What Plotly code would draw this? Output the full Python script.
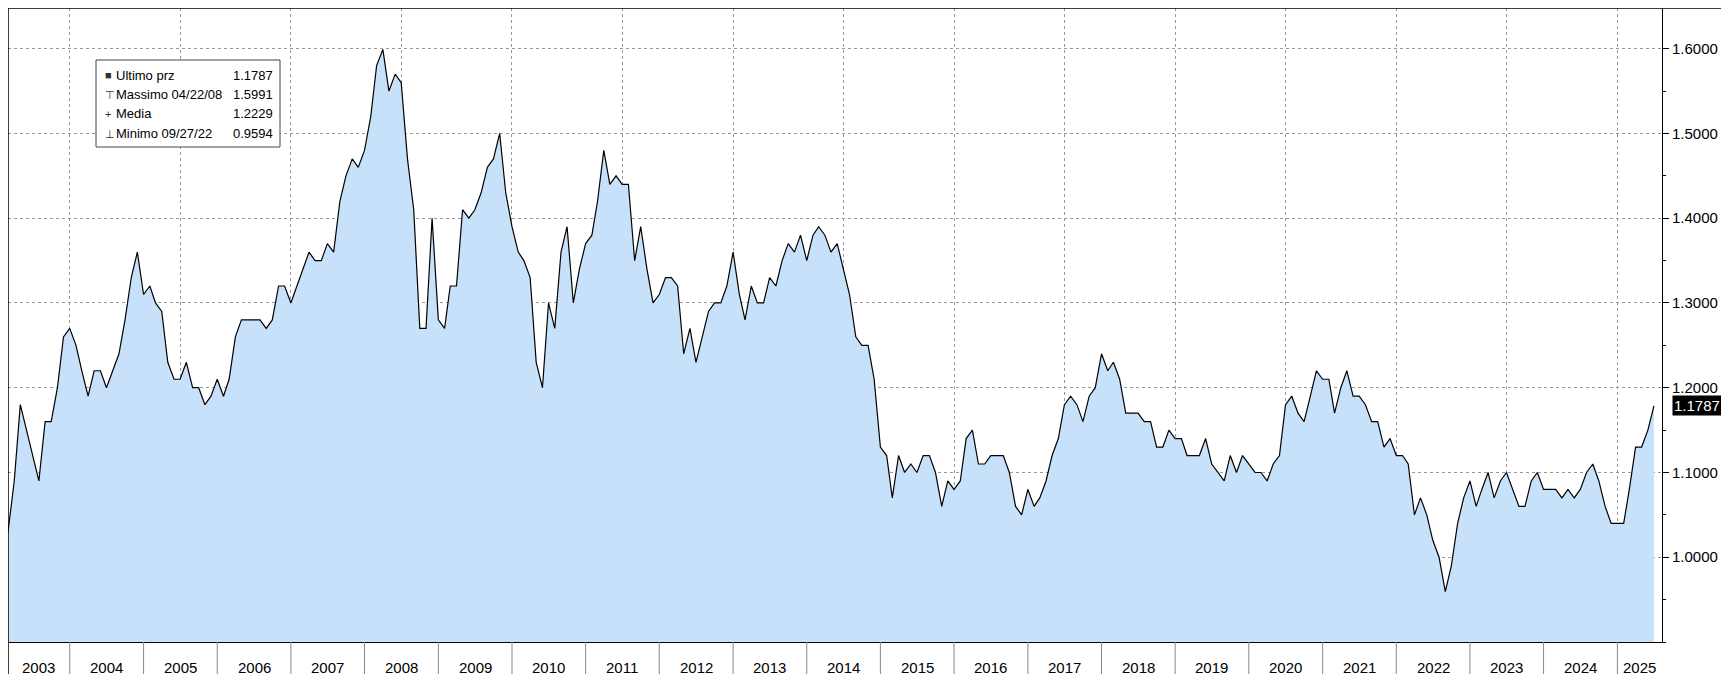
import plotly.graph_objects as go
import pandas as pd

start_month = "2003-03-01"
values = [
 1.03,1.09,1.18,1.15,1.12,1.09,1.16,1.16,1.20,1.26,
 1.27,1.25,1.22,1.19,1.22,1.22,1.20,1.22,1.24,1.28,1.33,1.36,
 1.31,1.32,1.30,1.29,1.23,1.21,1.21,1.23,1.20,1.20,1.18,1.19,
 1.21,1.19,1.21,1.26,1.28,1.28,1.28,1.28,1.27,1.28,1.32,1.32,
 1.30,1.32,1.34,1.36,1.35,1.35,1.37,1.36,1.42,1.45,1.47,1.46,
 1.48,1.52,1.58,1.5991,1.55,1.57,1.56,1.47,1.41,1.27,1.27,1.40,
 1.28,1.27,1.32,1.32,1.41,1.40,1.41,1.43,1.46,1.47,1.50,1.43,
 1.39,1.36,1.35,1.33,1.23,1.20,1.30,1.27,1.36,1.39,1.30,1.34,
 1.37,1.38,1.42,1.48,1.44,1.45,1.44,1.44,1.35,1.39,1.34,1.30,
 1.31,1.33,1.33,1.32,1.24,1.27,1.23,1.26,1.29,1.30,1.30,1.32,
 1.36,1.31,1.28,1.32,1.30,1.30,1.33,1.32,1.35,1.37,1.36,1.38,
 1.35,1.38,1.39,1.38,1.36,1.37,1.34,1.31,1.26,1.25,1.25,1.21,
 1.13,1.12,1.07,1.12,1.10,1.11,1.10,1.12,1.12,1.10,1.06,1.09,
 1.08,1.09,1.14,1.15,1.11,1.11,1.12,1.12,1.12,1.10,1.06,1.05,
 1.08,1.06,1.07,1.09,1.12,1.14,1.18,1.19,1.18,1.16,1.19,1.20,
 1.24,1.22,1.23,1.21,1.17,1.17,1.17,1.16,1.16,1.13,1.13,1.15,
 1.14,1.14,1.12,1.12,1.12,1.14,1.11,1.10,1.09,1.12,1.10,1.12,
 1.11,1.10,1.10,1.09,1.11,1.12,1.18,1.19,1.17,1.16,1.19,1.22,
 1.21,1.21,1.17,1.20,1.22,1.19,1.19,1.18,1.16,1.16,1.13,1.14,
 1.12,1.12,1.11,1.05,1.07,1.05,1.02,1.00,0.9594,0.99,1.04,1.07,
 1.09,1.06,1.08,1.10,1.07,1.09,1.10,1.08,1.06,1.06,1.09,1.10,
 1.08,1.08,1.08,1.07,1.08,1.07,1.08,1.10,1.11,1.09,1.06,1.04,
 1.04,1.04,1.08,1.13,1.13,1.15,1.1787]
dates = pd.date_range(start_month, periods=len(values), freq="MS")
years = list(range(2003, 2026))
ytick_vals = [1.0, 1.1, 1.2, 1.3, 1.4, 1.5, 1.6]
legend_names = ["Ultimo prz", "Massimo 04/22/08", "Media", "Minimo 09/27/22"]
legend_vals = ["1.1787", "1.5991", "1.2229", "0.9594"]
legend_syms = ["■", "⊤", "+", "⊥"]
last_value = "1.1787"

FONT = "Liberation Sans"
fig = go.Figure(go.Scatter(x=dates, y=values, mode="lines", line=dict(color="black", width=1.2),
                           fill="tozeroy", fillcolor="#C8E1FA", hoverinfo="skip"))

xr = ["2003-03-01", "2025-08-10"]
fig.update_layout(
    width=1729, height=674, margin=dict(l=0, r=75, t=0, b=40),
    plot_bgcolor="white", paper_bgcolor="white", showlegend=False,
    font=dict(family=FONT, size=15, color="black"),
    xaxis=dict(range=xr, showticklabels=False, ticks="", showgrid=True, gridcolor="#999",
               griddash="dot", gridwidth=1, tick0="2004-01-01", dtick="M18",
               showline=True, linecolor="black", zeroline=False),
    yaxis=dict(range=[0.9, 1.648], side="right", tickformat=".4f", tickvals=ytick_vals,
               ticks="outside", ticklen=6, tickcolor="black", showgrid=True, gridcolor="#999",
               griddash="dot", showline=True, linecolor="black", zeroline=False,
               minor=dict(dtick=0.05, tick0=0.9, ticks="outside", ticklen=3, tickcolor="black",
                          showgrid=False)),
)
shapes = [dict(type="rect", xref="paper", yref="paper", x0=0, x1=1.0434, y0=-0.0593, y1=1,
               line=dict(color="black", width=1.5))]
anns = []
for y in years:
    if y > 2003:
        shapes.append(dict(type="line", xref="x", yref="paper", x0=f"{y}-01-01", x1=f"{y}-01-01",
                           y0=-0.0593, y1=0, line=dict(color="#888", width=1)))
    cx = max(pd.Timestamp(f"{y}-01-01"), pd.Timestamp(xr[0]))
    ex = min(pd.Timestamp(f"{y+1}-01-01"), pd.Timestamp(xr[1]))
    mid = cx + (ex - cx) / 2
    anns.append(dict(x=mid, y=-0.057, xref="x", yref="paper", text=str(y), showarrow=False,
                     yanchor="bottom", font=dict(size=15)))
# legend box
shapes.append(dict(type="rect", xref="paper", yref="paper", x0=88/1654, x1=272/1654,
                   y0=1-139/634, y1=1-52/634, line=dict(color="#444", width=1), fillcolor="white"))
for i, (s, n, v) in enumerate(zip(legend_syms, legend_names, legend_vals)):
    yy = 1 - (67 + i * 19.5) / 634
    anns.append(dict(x=95/1654, y=yy, xref="paper", yref="paper", xanchor="left", yanchor="middle",
                     text=s, showarrow=False, font=dict(size=11, color="#333")))
    anns.append(dict(x=106/1654, y=yy, xref="paper", yref="paper", xanchor="left", yanchor="middle",
                     text=n, showarrow=False, font=dict(size=13)))
    anns.append(dict(x=267/1654, y=yy, xref="paper", yref="paper", xanchor="right", yanchor="middle",
                     text=v, showarrow=False, font=dict(size=13)))
anns.append(dict(x=1.006, y=values[-1], xref="paper", yref="y", xanchor="left", text=last_value,
                 showarrow=False, bgcolor="black", font=dict(color="white", size=15), borderpad=1))
fig.update_layout(shapes=shapes, annotations=anns)
fig.write_html("out.html")
